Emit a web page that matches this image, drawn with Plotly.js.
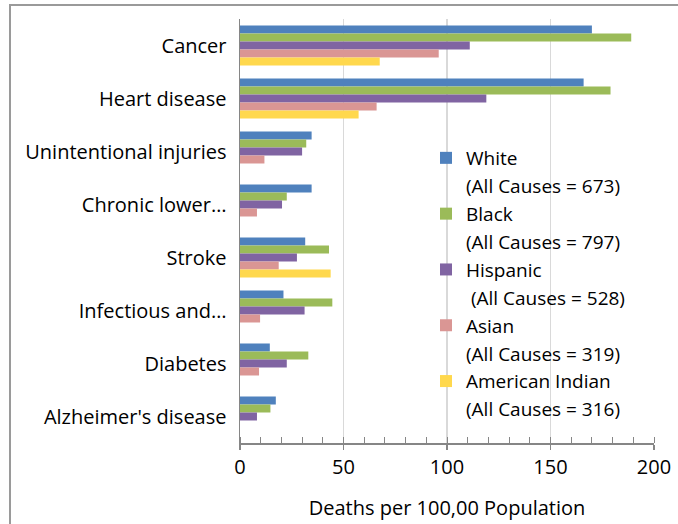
<!DOCTYPE html>
<html>
<head>
<meta charset="utf-8">
<script src="https://cdn.plot.ly/plotly-3.0.1.min.js"></script>
<style>html,body{margin:0;padding:0;background:#fff;}#chart{width:678px;height:524px;}</style>
</head>
<body>
<div id="chart"></div>
<script>
const categories = ["Cancer", "Heart disease", "Unintentional injuries", "Chronic lower\u2026", "Stroke", "Infectious and\u2026", "Diabetes", "Alzheimer's disease"];
const groupNames = ["White", "Black", "Hispanic", "Asian", "American Indian"];
const allCausesLabels = ["(All Causes = 673)", "(All Causes = 797)", "\u00a0(All Causes = 528)", "(All Causes = 319)", "(All Causes = 316)"];
const white    = [170, 166, 34.6, 34.6, 31.5, 21.0, 14.4, 17.3];
const black    = [189, 179, 32.0, 22.6, 43.0, 44.6, 33.0, 14.7];
const hispanic = [111, 119, 30.0, 20.3, 27.5, 31.2, 22.6, 8.2];
const asian    = [96, 66, 11.8, 8.2, 18.7, 9.7, 9.2, null];
const amIndian = [67.5, 57.3, null, null, 43.8, null, null, null];
const xTicks = [0, 50, 100, 150, 200];

const seriesValues = [white, black, hispanic, asian, amIndian];
const colors = ["#4F81BD", "#9BBB59", "#8064A2", "#DA9694", "#FFD84D"];

const font = "'Open Sans', sans-serif";
const traces = [];
seriesValues.forEach((vals, i) => {
  traces.push({
    type: "bar", orientation: "h", name: groupNames[i],
    x: vals, y: categories,
    marker: {color: colors[i]},
    legendgroup: "g" + i + "a", hoverinfo: "x+name"
  });
  traces.push({
    type: "scatter", mode: "markers", name: allCausesLabels[i],
    x: [null], y: [categories[0]],
    marker: {color: "rgba(0,0,0,0)", size: 1},
    legendgroup: "g" + i + "b", hoverinfo: "skip"
  });
});

const L = 240, R = 654, T = 19, B = 443;
const pw = R - L, ph = B - T;
const px = v => (v - L) / pw;
const py = v => (B - v) / ph;

const layout = {
  width: 678, height: 524,
  margin: {l: L, r: 678 - R, t: T, b: 524 - B, pad: 0},
  paper_bgcolor: "#fff", plot_bgcolor: "#fff",
  font: {family: font, size: 20, color: "#000"},
  barmode: "group", bargap: 0.245, bargroupgap: 0,
  showlegend: true,
  legend: {
    x: px(426), y: py(139), xanchor: "left", yanchor: "top",
    bgcolor: "rgba(0,0,0,0)", borderwidth: 0,
    traceorder: "grouped", tracegroupgap: 0.2,
    font: {family: font, size: 19, color: "#000"},
    valign: "middle"
  },
  xaxis: {
    range: [0, 200], tickvals: xTicks, ticktext: xTicks.map(String),
    showgrid: true, gridcolor: "#d9d9d9", gridwidth: 1.5,
    zeroline: false, showline: true, linecolor: "#868686", linewidth: 1.5,
    ticks: "outside", ticklen: 5, tickcolor: "#868686", tickwidth: 1.5,
    minor: {dtick: 10, ticks: "inside", ticklen: 6, tickcolor: "#868686", tickwidth: 1, showgrid: false},
    tickfont: {family: font, size: 20, color: "#000"},
    title: {text: "Deaths per 100,00 Population", font: {family: font, size: 20, color: "#000"}, standoff: 22},
    fixedrange: true
  },
  yaxis: {
    type: "category", categoryorder: "array", categoryarray: categories,
    autorange: "reversed",
    showgrid: false, zeroline: false, showline: true, linecolor: "#868686", linewidth: 1.5,
    ticks: "", ticklabelstandoff: 8,
    tickfont: {family: font, size: 20, color: "#000"},
    fixedrange: true
  },
  shapes: [{
    type: "rect", xref: "paper", yref: "paper",
    x0: px(10), x1: px(700), y0: py(540), y1: py(5),
    line: {color: "#9a9a9a", width: 2}, fillcolor: "rgba(0,0,0,0)", layer: "below"
  }]
};

Plotly.newPlot("chart", traces, layout, {displayModeBar: false, staticPlot: true});
</script>
</body>
</html>
